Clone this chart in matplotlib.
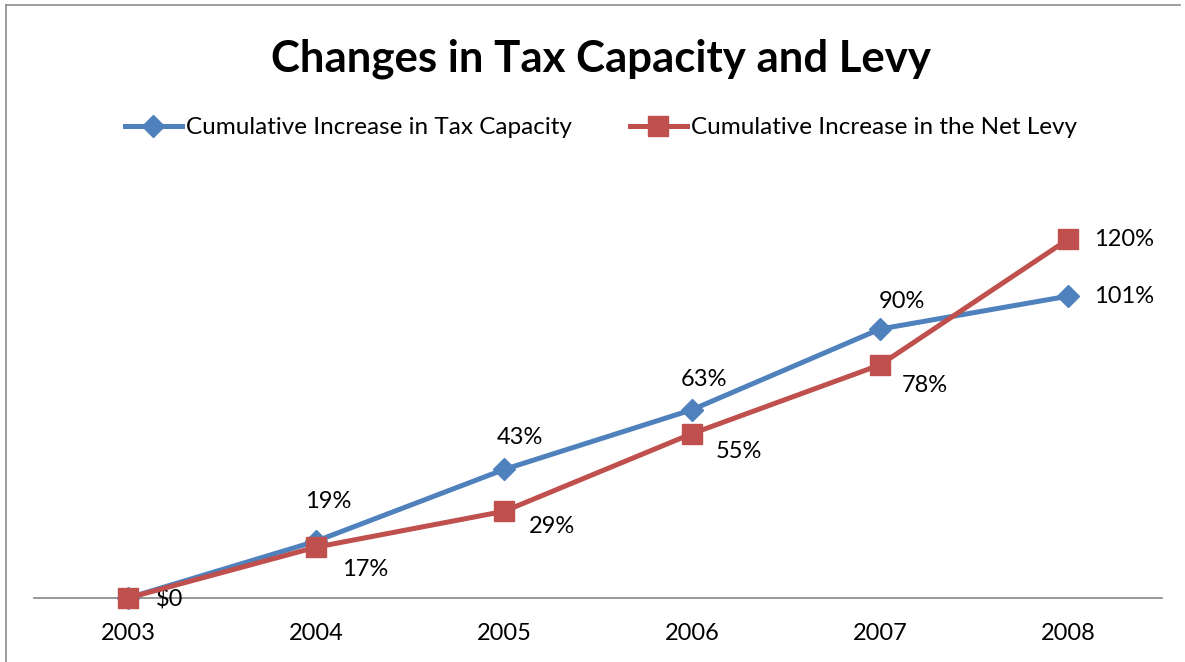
import numpy as np
import matplotlib.pyplot as plt
from matplotlib.lines import Line2D

# data
years = ['2003', '2004', '2005', '2006', '2007', '2008']
tax_capacity = [0.0, 0.19, 0.43, 0.63, 0.90, 1.01]
net_levy = [0.0, 0.17, 0.29, 0.55, 0.78, 1.20]
tax_labels = ['', '19%', '43%', '63%', '90%', '101%']
levy_labels = ['$0', '17%', '29%', '55%', '78%', '120%']

# label offsets in pixels from each marker (Excel placement)
tax_offsets = [(0, 0), (12, 40), (16, 32), (12, 30), (22, 28), (56, 0)]
levy_offsets = [(42, -2), (49, -22), (48, -15), (47, -18), (45, -21), (56, 0)]

blue = '#4F81BD'
red = '#C0504D'
plt.rcParams['font.family'] = ['Lato', 'DejaVu Sans']

fig = plt.figure(figsize=(11.85, 6.62), dpi=100)
ax = fig.add_axes([0.0287, 0.0967, 0.952, 0.632])

x = np.arange(len(years))
ax.plot(x, tax_capacity, color=blue, lw=3.6, marker='D', ms=11,
        label='Cumulative Increase in Tax Capacity', zorder=3)
ax.plot(x, net_levy, color=red, lw=3.6, marker='s', ms=14,
        label='Cumulative Increase in the Net Levy', zorder=4)

for i, (v, t) in enumerate(zip(tax_capacity, tax_labels)):
    if t:
        ax.annotate(t, (i, v), xytext=tax_offsets[i], textcoords='offset pixels',
                    ha='center', va='center', fontsize=17)
for i, (v, t) in enumerate(zip(net_levy, levy_labels)):
    ax.annotate(t, (i, v), xytext=levy_offsets[i], textcoords='offset pixels',
                ha='center', va='center', fontsize=17)

ax.set_xlim(-0.5, len(years) - 0.5)
ax.set_ylim(0, 1.4)
ax.set_xticks(x)
ax.set_xticklabels(years, fontsize=17)
ax.tick_params(axis='x', length=0, pad=18)
ax.set_yticks([])
for s in ['top', 'right', 'left']:
    ax.spines[s].set_visible(False)
ax.spines['bottom'].set_color('#868686')
ax.spines['bottom'].set_linewidth(1.2)
ax.spines['bottom'].set_zorder(1)
for ln in ax.lines:
    ln.set_clip_on(False)

fig.text(0.507, 0.912, 'Changes in Tax Capacity and Levy', ha='center',
         va='center', fontsize=31.5, fontweight='bold')
fig.legend(loc='center', bbox_to_anchor=(0.507, 0.807), ncol=2, frameon=False,
           fontsize=17.5, handlelength=2.35, columnspacing=2.4, handletextpad=0.15)

# outer frame (left and top edges)
fig.add_artist(Line2D([0.005, 0.005], [0.0, 0.9925], color='#8c8c8c', lw=1.2,
                      transform=fig.transFigure))
fig.add_artist(Line2D([0.005, 0.996], [0.9925, 0.9925], color='#8c8c8c', lw=1.2,
                      transform=fig.transFigure))

fig.savefig('out.png', dpi=100)
